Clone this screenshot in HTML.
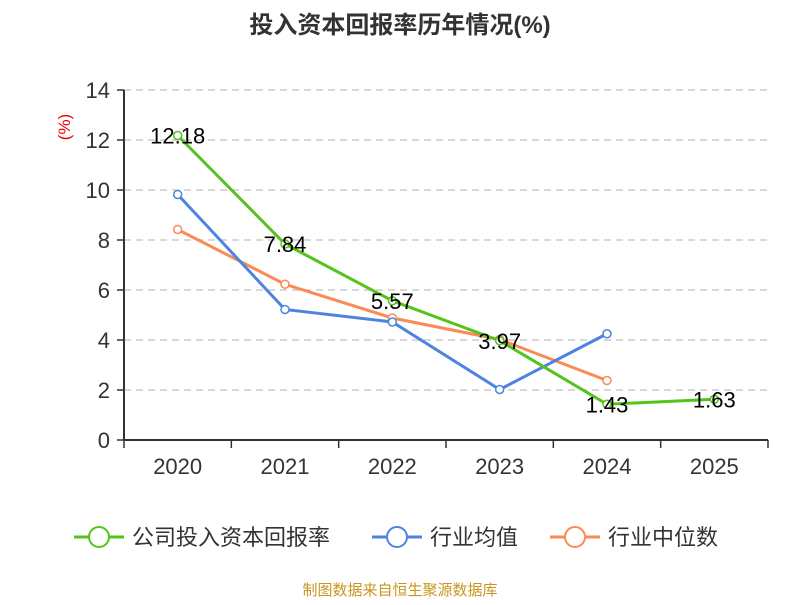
<!DOCTYPE html>
<html><head><meta charset="utf-8"><style>
body{margin:0;background:#fff;}
svg text{font-family:"Liberation Sans","Noto Sans CJK SC",sans-serif;}
</style></head><body>
<svg id="c" width="800" height="600">
<text x="400" y="33" text-anchor="middle" font-size="24" font-weight="bold" fill="#333">投入资本回报率历年情况(%)</text>
<text transform="translate(70,127) rotate(-90)" text-anchor="middle" font-size="17" fill="#e00">(%)</text>
<text x="400" y="595" text-anchor="middle" font-size="15" fill="#c8961e">制图数据来自恒生聚源数据库</text>
<g id="grid"></g><g id="axes"></g><g id="series"></g><g id="legend"></g>
</svg>
<script>
const categories=["2020","2021","2022","2023","2024","2025"];
const companyValues=[12.18,7.84,5.57,3.97,1.43,1.63];
const industryAvg=[9.82,5.22,4.72,2.02,4.25,null];
const industryMedian=[8.42,6.23,4.88,4.02,2.38,null];
const yTicks=[0,2,4,6,8,10,12,14];
const NS="http://www.w3.org/2000/svg";
const x0=124,x1=768,y0=440,y1=90;
const band=(x1-x0)/categories.length;
const xs=i=>x0+band*(i+0.5);
const ys=v=>y0-(v/14)*(y0-y1);
function mk(t,a,p){const e=document.createElementNS(NS,t);for(const k in a)e.setAttribute(k,a[k]);p.appendChild(e);return e;}
const grid=document.getElementById('grid'),axes=document.getElementById('axes'),ser=document.getElementById('series'),leg=document.getElementById('legend');
yTicks.forEach(v=>{
 if(v>0){const g=mk('line',{x1:x0,x2:x1,y1:ys(v),y2:ys(v),stroke:'#ccc','stroke-dasharray':'7,5','stroke-width':1.5},grid);
 
 }
 const tk=mk('line',{x1:x0-7,x2:x0,y1:ys(v),y2:ys(v),stroke:'#333','stroke-width':1.5},axes);
 
 
 const t=mk('text',{x:x0-14,y:ys(v)+8,'text-anchor':'end','font-size':22,fill:'#333'},axes);t.textContent=v;
 
 
});
const ya=mk('line',{x1:x0,x2:x0,y1:y1,y2:y0,stroke:'#333','stroke-width':2},axes);


const xa=mk('line',{x1:x0,x2:x1,y1:y0,y2:y0,stroke:'#333','stroke-width':2},axes);


for(let i=0;i<=categories.length;i++){const tk=mk('line',{x1:x0+band*i,x2:x0+band*i,y1:y0,y2:y0+8,stroke:'#333','stroke-width':1.5},axes);
 
 }
categories.forEach((c,i)=>{const t=mk('text',{x:xs(i),y:474,'text-anchor':'middle','font-size':22,fill:'#333'},axes);t.textContent=c;
 
 });
function series(vals,color,name,labels){
 const g=mk('g',{},ser);
 
 
 const pts=vals.map((v,i)=>v==null?null:[xs(i),ys(v)]).filter(p=>p);
 mk('polyline',{points:pts.map(p=>p.join(',')).join(' '),fill:'none',stroke:color,'stroke-width':3},g);
 vals.forEach((v,i)=>{if(v==null)return;
  const c=mk('circle',{cx:xs(i),cy:ys(v),r:4,fill:'#fff',stroke:color,'stroke-width':1.5},g);
  
  
  if(labels){const t=mk('text',{x:xs(i),y:ys(v)+8,'text-anchor':'middle','font-size':22,fill:'#000'},g);t.textContent=v.toFixed(2);
   
   }
 });
}
series(industryMedian,'#fb8a55','industry-median-series',false);
series(industryAvg,'#4e83e2','industry-average-series',false);
series(companyValues,'#52c41a','company-series',true);
[["公司投入资本回报率",'#52c41a',74],["行业均值",'#4e83e2',372],["行业中位数",'#fb8a55',550]].forEach(([n,c,x])=>{
 const g=mk('g',{},leg);
 
 
 mk('line',{x1:x,x2:x+50,y1:537,y2:537,stroke:c,'stroke-width':3},g);
 mk('circle',{cx:x+25,cy:537,r:10,fill:'#fff',stroke:c,'stroke-width':2},g);
 const t=mk('text',{x:x+58,y:545,'font-size':22,fill:'#333'},g);t.textContent=n;
});
</script>
</body></html>
